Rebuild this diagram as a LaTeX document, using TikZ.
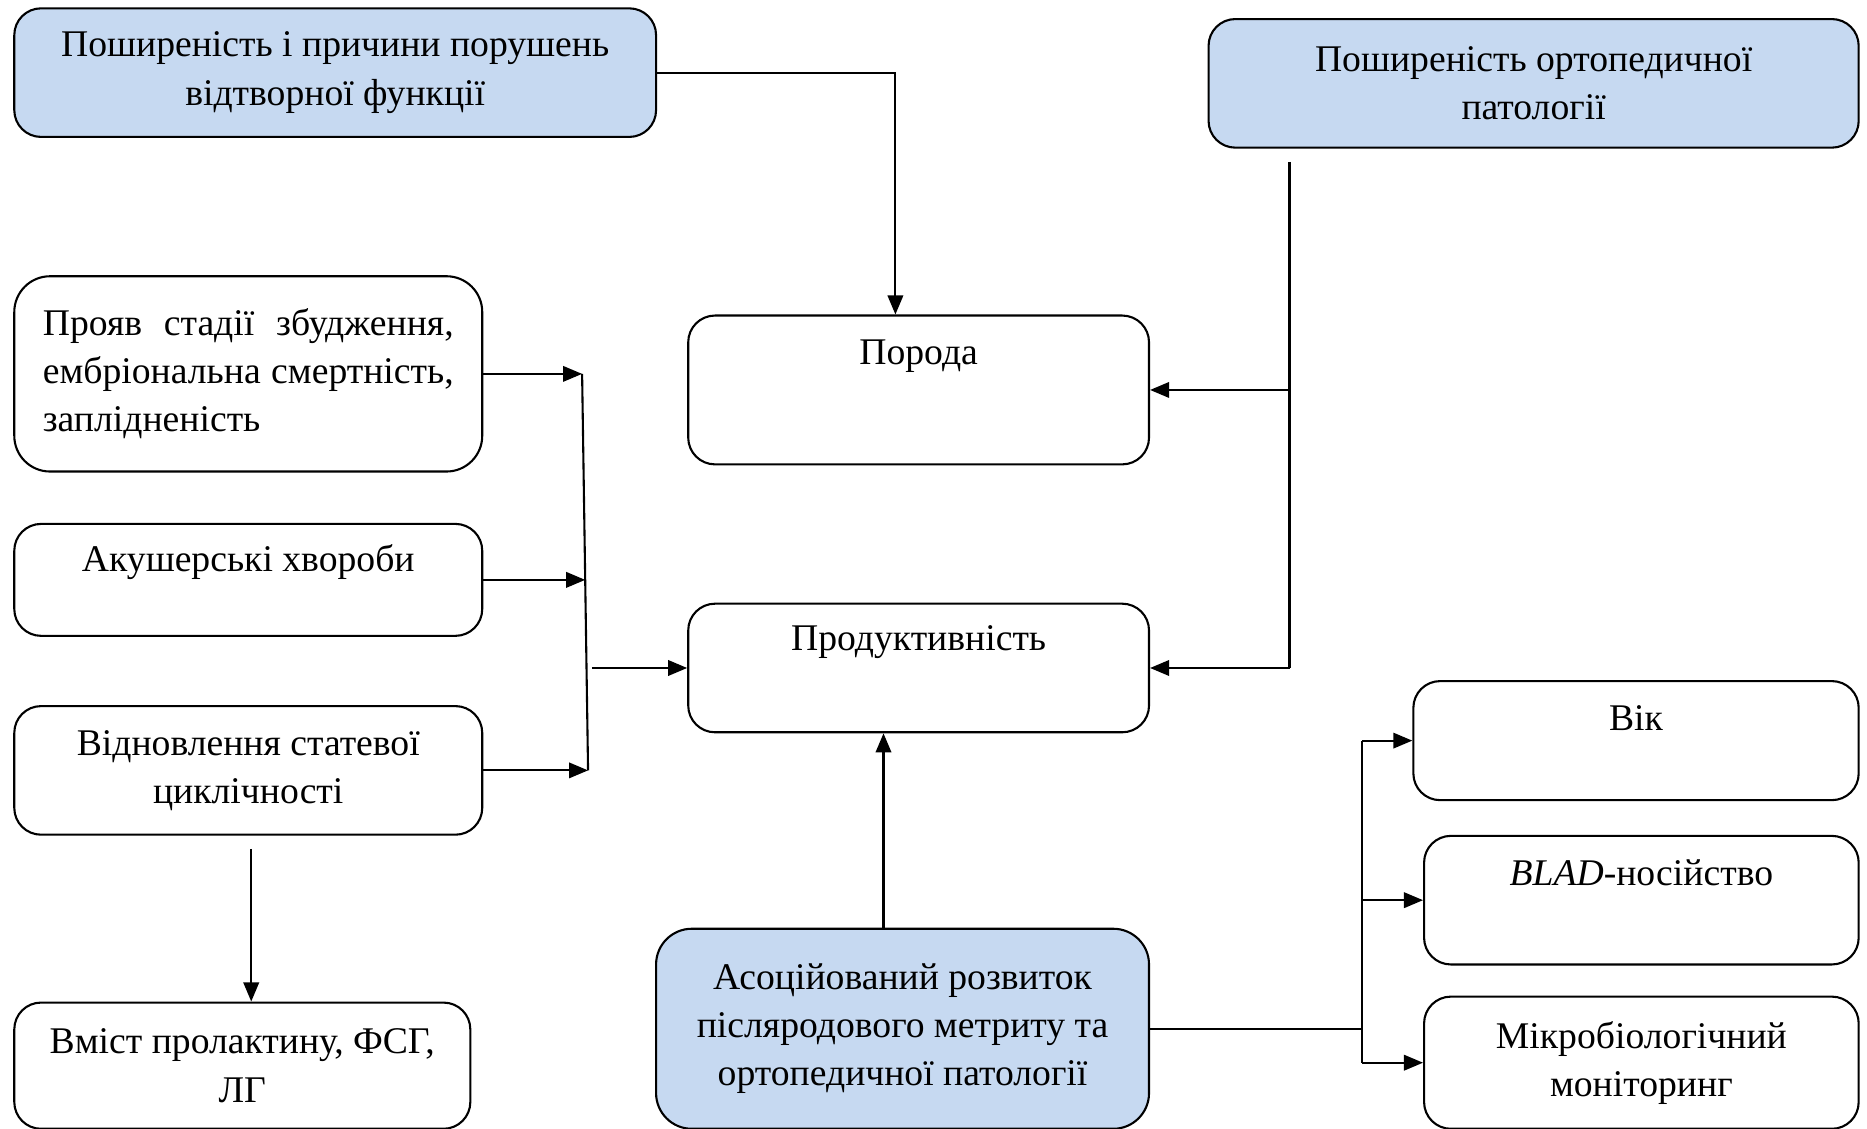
\documentclass[tikz,border=0pt]{standalone}
\usepackage{fontspec}
\setmainfont{Liberation Serif}
\usetikzlibrary{shapes, arrows.meta, calc, positioning}
\definecolor{boxblue}{RGB}{198,217,241}

\begin{document}
\begin{tikzpicture}[every label/.style={font=\rmfamily\fontsize{18}{23}\selectfont}]%{{{
        \useasboundingbox (0, 0) rectangle (31.36, -18.96);

        \tikzstyle{box} = [draw, line width=1pt, rounded corners=0.45cm, inner sep=0pt, align=center, font=\rmfamily\fontsize{18}{23}\selectfont];
        \tikzstyle{bluebox} = [box, fill=boxblue];
        \tikzstyle{ln} = [line width=1pt];
        \tikzstyle{arr} = [ln, -{Triangle[length=0.32cm, width=0.26cm]}];

        \node [bluebox, minimum width=10.78cm, minimum height=2.16cm] (prevrepr) at (5.63, -1.22) {Поширеність і причини порушень\\відтворної функції};
        \node [bluebox, minimum width=10.92cm, minimum height=2.16cm] (prevorth) at (25.76, -1.40) {Поширеність ортопедичної\\патології};

        \node [box, minimum width=7.74cm, minimum height=2.5cm, label={[anchor=center, yshift=-0.7cm]north:Порода}] (poroda) at (15.43, -6.55) {};
        \node [box, minimum width=7.74cm, minimum height=2.16cm, label={[anchor=center, yshift=-0.66cm]north:Продуктивність}] (produkt) at (15.43, -11.22) {};

        \node [box, rounded corners=0.6cm, minimum width=7.86cm, minimum height=3.28cm, text width=6.9cm, align=left] (proyav) at (4.17, -6.28) {Прояв\hfill стадії\hfill збудження,\\ембріональна\hfill смертність,\\заплідненість};
        \node [box, minimum width=7.86cm, minimum height=1.88cm, label={[anchor=center, yshift=-0.66cm]north:Акушерські хвороби}] (akush) at (4.17, -9.74) {};
        \node [box, minimum width=7.86cm, minimum height=2.16cm] (vidnov) at (4.17, -12.94) {Відновлення статевої\\циклічності};
        \node [box, minimum width=7.66cm, minimum height=2.12cm] (vmist) at (4.07, -17.9) {Вміст пролактину, ФСГ,\\ЛГ};

        \node [bluebox, rounded corners=0.6cm, minimum width=8.28cm, minimum height=3.36cm] (assoc) at (15.16, -17.28) {Асоційований розвиток\\післяродового метриту та\\ортопедичної патології};

        \node [box, minimum width=7.48cm, minimum height=2cm, label={[anchor=center, yshift=-0.64cm]north:Вік}] (vik) at (27.48, -12.44) {};
        \node [box, minimum width=7.3cm, minimum height=2.16cm, label={[anchor=center, yshift=-0.64cm]north:\textit{BLAD}-носійство}] (blad) at (27.57, -15.12) {};
        \node [box, minimum width=7.3cm, minimum height=2.22cm] (mikro) at (27.57, -17.85) {Мікробіологічний\\моніторинг};

        \draw [arr] (prevrepr.east) -| ($(poroda.north) + (-0.39, 0)$);

        \coordinate (orthtop) at ($(prevorth.south) + (-4.1, -0.22)$);
        \draw [ln] (orthtop) -- (orthtop |- produkt.east);
        \foreach \n in {poroda, produkt}{
            \draw [arr] (orthtop |- \n.east) -- (\n.east);
        }

        \coordinate (jtop) at ($(proyav.east) + (1.66, 0)$);
        \coordinate (jbot) at ($(vidnov.east) + (1.76, 0)$);
        \coordinate (jmid) at ($(jtop)!0.52!(jbot)$);
        \draw [ln] (jtop) -- (jbot);
        \draw [arr] (proyav.east) -- (jtop);
        \draw [arr] (akush.east) -- (akush.east -| jmid);
        \draw [arr] (vidnov.east) -- (jbot);
        \draw [arr] ($(produkt.west) + (-1.6, 0)$) -- (produkt.west);

        \coordinate (vtop) at ($(vidnov.south) + (0.05, -0.22)$);
        \draw [arr] (vtop) -- (vtop |- vmist.north);

        \coordinate (up) at ($(assoc.north) + (-0.32, 0)$);
        \draw [arr] (up) -- (up |- produkt.south);

        \coordinate (fork) at ($(assoc.east) + (3.56, 0)$);
        \draw [ln] (assoc.east) -- (fork);
        \draw [ln] (fork |- vik.west) -- (fork |- mikro.west);
        \foreach \n in {vik, blad, mikro}{
            \draw [arr] (fork |- \n.west) -- (\n.west);
        }
    \end{tikzpicture}
\end{document}
